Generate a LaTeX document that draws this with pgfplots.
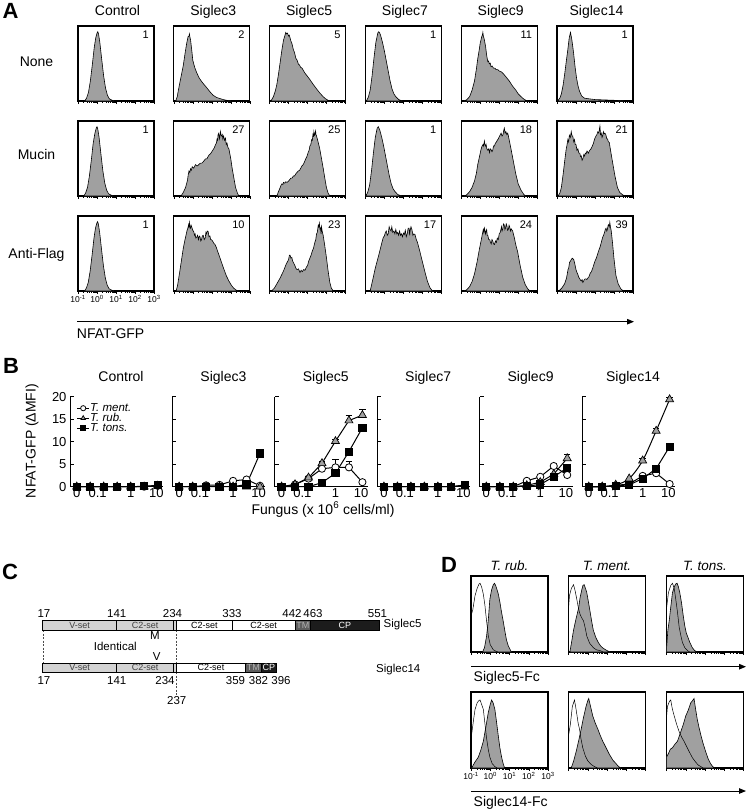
\documentclass[border=0pt]{standalone}
\usepackage{pgfplots}
\pgfplotsset{compat=1.18}
\usepackage{fontspec}
\setmainfont{Liberation Sans}
\usetikzlibrary{arrows.meta}
\definecolor{hg}{HTML}{A0A0A0}
\definecolor{cg}{HTML}{D3D3D3}
\definecolor{tmg}{HTML}{5E5E5E}
\definecolor{cpk}{HTML}{1C1C1C}
\newcommand{\fsz}[1]{\fontsize{#1}{#1}\selectfont}

\pgfplotsset{
 histo/.style={scale only axis, width=76pt, height=75pt, xmin=-1, xmax=3, ymin=0, ymax=1.05,
   anchor=north west, axis line style={line width=1.2pt}, ytick=\empty,
   xtick={-1,0,1,2,3},
   minor xtick={-0.699,-0.523,-0.398,-0.301,-0.222,-0.155,-0.097,-0.046,0.301,0.477,0.602,0.699,0.778,0.845,0.903,0.954,1.301,1.477,1.602,1.699,1.778,1.845,1.903,1.954,2.301,2.477,2.602,2.699,2.778,2.845,2.903,2.954},
   xtick pos=bottom, tick align=outside, xticklabels=\empty,
   major tick length=3pt, minor tick length=1.8pt, tick style={black, line width=0.5pt},
   xticklabel style={font=\fsz{8.5}, inner sep=1pt}},
 hfill/.style={fill=hg, draw=black, line width=0.6pt},
 hopen/.style={draw=black, line width=0.5pt, fill=none},
 bpan/.style={scale only axis, width=93pt, height=90pt, xmin=-0.5, xmax=6.4, ymin=0, ymax=20,
   anchor=south west, axis x line=bottom, axis y line=left, axis line style={-, line width=0.9pt},
   ytick={0,5,10,15,20}, yticklabels=\empty, tick align=inside, major tick length=4pt,
   ytick style={line width=0.9pt, black}, xtick={0,1.55,4,5.9}, xticklabels={0,0.1,1,10},
   xtick style={draw=none}, clip=false, tick label style={font=\fsz{13}},
   xticklabel style={inner sep=2pt},
   every axis plot/.append style={line width=1pt, black}},
 sm/.style={mark=*, mark size=3.6pt, mark options={fill=white, draw=black, line width=0.8pt}},
 sr/.style={mark=triangle*, mark size=4.6pt, mark options={fill=hg, draw=black, line width=0.7pt}},
 st/.style={mark=square*, mark size=3.6pt, mark options={fill=black, draw=black}},
 eb/.style={error bars/y dir=plus, error bars/y explicit,
   error bars/error bar style={line width=0.8pt, black},
   error bars/error mark options={rotate=90, mark size=3.2pt, line width=0.8pt, black}},
}

\newcommand{\histbox}[5][]{%
\begin{axis}[histo, at={(#2pt,-#3pt)}, #1]
\addplot[hfill] coordinates {#5} \closedcycle;
\node[anchor=north east, inner sep=0pt, font=\fsz{11}] at (rel axis cs:1,1) [xshift=-5pt, yshift=-5pt] {#4};
\end{axis}}

\newcommand{\dbox}[5][]{%
\begin{axis}[histo, width=77pt, height=76pt, at={(#2pt,-#3pt)}, #1]
\addplot[hfill] coordinates {#4} \closedcycle;
\addplot[hopen] coordinates {#5};
\end{axis}}

\begin{document}
\begin{tikzpicture}[x=1pt,y=1pt]
\path[use as bounding box] (0,0) rectangle (747,-811);

%================ PANEL A =================
\node[font=\bfseries\fsz{22}] at (10.5,-10.5) {A};
\foreach \n/\x in {Control/117.5, Siglec3/213.3, Siglec5/309.1, Siglec7/404.9, Siglec9/500.7, Siglec14/596.5}
  \node[font=\fsz{14}, anchor=base, inner sep=0pt] at (\x,-16) {\n};
\node[font=\fsz{14}, anchor=base, inner sep=0pt] at (36.5,-66.5) {None};
\node[font=\fsz{14}, anchor=base, inner sep=0pt] at (36.5,-159.5) {Mucin};
\node[font=\fsz{14}, anchor=base, inner sep=0pt] at (36.5,-258.5) {Anti-Flag};

% Row None
\histbox{78}{26}{1}{(-0.65,0) (-0.55,0.04) (-0.45,0.12) (-0.35,0.28) (-0.25,0.5) (-0.15,0.74) (-0.07,0.88) (0,0.95) (0.04,0.97) (0.08,0.94) (0.15,0.82) (0.25,0.58) (0.35,0.35) (0.45,0.18) (0.55,0.08) (0.65,0.03) (0.8,0.01) (0.9,0)}
\histbox{173.8}{26}{2}{(-0.9,0) (-0.82,0.06) (-0.76,0.15) (-0.65,0.3) (-0.5,0.5) (-0.4,0.68) (-0.32,0.81) (-0.25,0.9) (-0.2,0.91) (-0.18,0.94) (-0.14,0.88) (-0.12,0.86) (-0.05,0.7) (0.0,0.57) (0.1,0.47) (0.2,0.4) (0.34,0.32) (0.5,0.26) (0.72,0.19) (0.9,0.13) (1.07,0.08) (1.25,0.05) (1.42,0.035) (1.6,0.02) (1.77,0.01) (2.0,0)}
\histbox{269.6}{26}{5}{(-0.93,0) (-0.8,0.06) (-0.7,0.14) (-0.62,0.23) (-0.53,0.38) (-0.44,0.55) (-0.35,0.72) (-0.27,0.85) (-0.18,0.93) (-0.15,0.96) (-0.11,0.94) (-0.06,0.95) (0.0,0.91) (0.04,0.92) (0.12,0.84) (0.18,0.8) (0.25,0.72) (0.31,0.68) (0.38,0.6) (0.45,0.57) (0.51,0.52) (0.58,0.5) (0.64,0.47) (0.71,0.46) (0.77,0.43) (0.86,0.39) (0.95,0.36) (1.12,0.3) (1.3,0.23) (1.47,0.17) (1.65,0.11) (1.82,0.06) (1.95,0.03) (2.08,0.01) (2.2,0)}
\histbox{365.4}{26}{1}{(-0.95,0) (-0.85,0.05) (-0.75,0.15) (-0.65,0.35) (-0.55,0.6) (-0.45,0.82) (-0.35,0.95) (-0.3,0.97) (-0.26,0.96) (-0.2,0.92) (-0.1,0.82) (0,0.7) (0.1,0.56) (0.2,0.42) (0.3,0.28) (0.4,0.17) (0.5,0.1) (0.6,0.06) (0.75,0.02) (0.95,0)}
\histbox{461.2}{26}{11}{(-0.83,0) (-0.7,0.02) (-0.56,0.06) (-0.43,0.15) (-0.3,0.28) (-0.2,0.45) (-0.13,0.59) (-0.05,0.72) (0.0,0.81) (0.08,0.9) (0.12,0.93) (0.14,0.96) (0.17,0.9) (0.2,0.88) (0.28,0.77) (0.34,0.64) (0.4,0.55) (0.44,0.56) (0.48,0.52) (0.53,0.53) (0.57,0.48) (0.63,0.49) (0.7,0.46) (0.77,0.46) (0.84,0.44) (0.92,0.44) (1.0,0.42) (1.1,0.41) (1.19,0.39) (1.35,0.34) (1.53,0.28) (1.7,0.21) (1.88,0.15) (2.0,0.1) (2.15,0.06) (2.28,0.03) (2.4,0.01) (2.5,0)}
\histbox{557}{26}{1}{(-0.97,0) (-0.85,0.04) (-0.77,0.1) (-0.68,0.22) (-0.6,0.37) (-0.5,0.58) (-0.43,0.72) (-0.36,0.88) (-0.29,0.96) (-0.22,0.86) (-0.13,0.68) (-0.05,0.48) (0.03,0.32) (0.1,0.22) (0.18,0.14) (0.3,0.07) (0.44,0.04) (0.7,0.03) (1.0,0.02) (1.5,0.015) (2.0,0.01) (2.3,0.005) (2.5,0)}

% Row Mucin
\histbox{78}{121}{1}{(-0.7,0) (-0.6,0.04) (-0.5,0.12) (-0.4,0.28) (-0.3,0.5) (-0.2,0.74) (-0.11,0.88) (-0.04,0.95) (0,0.97) (0.04,0.94) (0.11,0.82) (0.21,0.58) (0.31,0.35) (0.41,0.18) (0.51,0.08) (0.61,0.03) (0.76,0.01) (0.86,0)}
\histbox{173.8}{121}{27}{(-0.62,0) (-0.5,0.05) (-0.38,0.12) (-0.28,0.22) (-0.24,0.3) (-0.2,0.35) (-0.16,0.33) (-0.12,0.38) (-0.08,0.36) (-0.03,0.41) (0.05,0.39) (0.1,0.42) (0.15,0.44) (0.22,0.42) (0.28,0.43) (0.35,0.45) (0.41,0.46) (0.48,0.46) (0.55,0.48) (0.61,0.5) (0.67,0.52) (0.74,0.52) (0.8,0.55) (0.87,0.58) (0.93,0.59) (1.0,0.62) (1.05,0.64) (1.12,0.67) (1.2,0.72) (1.24,0.74) (1.28,0.8) (1.31,0.78) (1.33,0.86) (1.37,0.88) (1.4,0.8) (1.42,0.82) (1.46,0.9) (1.48,0.86) (1.52,0.84) (1.55,0.86) (1.58,0.8) (1.62,0.84) (1.67,0.78) (1.72,0.81) (1.76,0.72) (1.8,0.74) (1.85,0.68) (1.9,0.66) (2.0,0.52) (2.07,0.39) (2.17,0.24) (2.25,0.12) (2.35,0.04) (2.42,0)}
\histbox{269.6}{121}{25}{(-0.62,0) (-0.52,0.07) (-0.44,0.12) (-0.4,0.15) (-0.35,0.17) (-0.3,0.16) (-0.27,0.19) (-0.2,0.18) (-0.15,0.2) (-0.08,0.19) (0.0,0.21) (0.06,0.23) (0.12,0.25) (0.18,0.25) (0.25,0.28) (0.31,0.28) (0.38,0.31) (0.44,0.33) (0.51,0.35) (0.58,0.36) (0.64,0.39) (0.7,0.42) (0.77,0.44) (0.84,0.48) (0.9,0.52) (0.96,0.55) (1.03,0.61) (1.08,0.64) (1.12,0.7) (1.17,0.72) (1.21,0.79) (1.25,0.78) (1.28,0.86) (1.31,0.84) (1.33,0.9) (1.36,0.85) (1.38,0.86) (1.42,0.91) (1.44,0.86) (1.47,0.84) (1.55,0.76) (1.64,0.66) (1.72,0.54) (1.82,0.39) (1.9,0.26) (1.99,0.12) (2.08,0.04) (2.17,0)}
\histbox{365.4}{121}{1}{(-0.98,0) (-0.88,0.05) (-0.78,0.15) (-0.68,0.35) (-0.58,0.6) (-0.48,0.82) (-0.38,0.95) (-0.32,0.97) (-0.24,0.92) (-0.14,0.82) (-0.04,0.7) (0.06,0.56) (0.16,0.42) (0.26,0.28) (0.36,0.17) (0.46,0.1) (0.56,0.06) (0.71,0.02) (0.9,0)}
\histbox{461.2}{121}{18}{(-0.83,0) (-0.7,0.02) (-0.56,0.06) (-0.43,0.12) (-0.3,0.21) (-0.2,0.32) (-0.13,0.44) (-0.04,0.55) (0.05,0.66) (0.1,0.7) (0.15,0.72) (0.18,0.7) (0.22,0.77) (0.25,0.72) (0.28,0.7) (0.31,0.72) (0.35,0.66) (0.4,0.64) (0.45,0.66) (0.49,0.61) (0.53,0.66) (0.57,0.65) (0.62,0.62) (0.66,0.64) (0.7,0.7) (0.75,0.7) (0.8,0.74) (0.84,0.75) (0.9,0.78) (0.95,0.8) (1.02,0.84) (1.1,0.88) (1.15,0.84) (1.2,0.86) (1.24,0.92) (1.27,0.95) (1.31,0.88) (1.35,0.9) (1.4,0.86) (1.45,0.88) (1.53,0.78) (1.62,0.66) (1.75,0.48) (1.88,0.3) (2.0,0.17) (2.15,0.08) (2.3,0.02) (2.4,0)}
\histbox{557}{121}{21}{(-0.95,0) (-0.85,0.04) (-0.77,0.12) (-0.68,0.3) (-0.6,0.48) (-0.52,0.65) (-0.47,0.72) (-0.43,0.79) (-0.39,0.76) (-0.35,0.85) (-0.3,0.82) (-0.25,0.9) (-0.21,0.84) (-0.17,0.84) (-0.12,0.76) (-0.08,0.79) (-0.04,0.72) (0.0,0.72) (0.05,0.64) (0.1,0.66) (0.15,0.6) (0.2,0.6) (0.24,0.55) (0.28,0.56) (0.32,0.5) (0.36,0.52) (0.41,0.58) (0.45,0.56) (0.49,0.6) (0.53,0.59) (0.58,0.63) (0.65,0.6) (0.72,0.64) (0.79,0.66) (0.86,0.7) (0.92,0.74) (0.98,0.8) (1.05,0.84) (1.1,0.86) (1.15,0.9) (1.2,0.88) (1.24,0.95) (1.26,0.98) (1.29,0.86) (1.33,0.88) (1.37,0.82) (1.4,0.84) (1.44,0.9) (1.48,0.87) (1.52,0.88) (1.57,0.86) (1.62,0.8) (1.66,0.8) (1.7,0.76) (1.75,0.75) (1.83,0.62) (1.92,0.48) (2.05,0.28) (2.18,0.12) (2.3,0.05) (2.44,0.02) (2.55,0)}

% Row Anti-Flag
\histbox[xticklabels={10\textsuperscript{-1},10\textsuperscript{0},10\textsuperscript{1},10\textsuperscript{2},10\textsuperscript{3}}]{78}{216}{1}{(-0.66,0) (-0.56,0.04) (-0.46,0.12) (-0.36,0.28) (-0.26,0.5) (-0.16,0.74) (-0.08,0.88) (-0.01,0.95) (0.03,0.97) (0.07,0.94) (0.14,0.82) (0.24,0.58) (0.34,0.35) (0.44,0.18) (0.54,0.08) (0.64,0.03) (0.79,0.01) (0.89,0)}
\histbox{173.8}{216}{10}{(-0.88,0) (-0.8,0.08) (-0.76,0.15) (-0.67,0.3) (-0.58,0.46) (-0.5,0.6) (-0.41,0.72) (-0.3,0.85) (-0.26,0.88) (-0.22,0.93) (-0.2,0.9) (-0.18,0.96) (-0.15,0.9) (-0.12,0.88) (-0.09,0.92) (-0.06,0.9) (0.0,0.85) (0.05,0.83) (0.09,0.78) (0.12,0.8) (0.16,0.74) (0.2,0.75) (0.25,0.78) (0.3,0.72) (0.34,0.77) (0.38,0.76) (0.42,0.7) (0.46,0.72) (0.5,0.77) (0.55,0.78) (0.6,0.72) (0.65,0.74) (0.69,0.82) (0.72,0.8) (0.76,0.84) (0.81,0.83) (0.85,0.76) (0.9,0.77) (0.94,0.72) (0.98,0.72) (1.04,0.7) (1.1,0.67) (1.17,0.65) (1.24,0.61) (1.3,0.56) (1.37,0.51) (1.5,0.41) (1.63,0.31) (1.77,0.21) (1.9,0.14) (2.03,0.08) (2.15,0.04) (2.3,0.01) (2.4,0)}
\histbox{269.6}{216}{23}{(-0.9,0) (-0.75,0.04) (-0.62,0.1) (-0.45,0.18) (-0.27,0.28) (-0.12,0.38) (0.0,0.44) (0.04,0.5) (0.08,0.5) (0.12,0.46) (0.17,0.47) (0.21,0.42) (0.25,0.4) (0.34,0.35) (0.4,0.31) (0.45,0.3) (0.52,0.31) (0.6,0.26) (0.66,0.29) (0.72,0.27) (0.79,0.3) (0.86,0.29) (0.93,0.33) (1.0,0.36) (1.06,0.42) (1.12,0.46) (1.18,0.5) (1.25,0.56) (1.31,0.6) (1.38,0.68) (1.43,0.72) (1.47,0.8) (1.51,0.82) (1.56,0.92) (1.59,0.9) (1.62,0.95) (1.65,0.87) (1.68,0.88) (1.71,0.8) (1.73,0.9) (1.78,0.82) (1.82,0.78) (1.9,0.64) (2.0,0.45) (2.08,0.28) (2.17,0.12) (2.25,0.04) (2.35,0)}
\histbox{365.4}{216}{17}{(-0.75,0) (-0.62,0.15) (-0.48,0.32) (-0.3,0.5) (-0.13,0.68) (-0.06,0.75) (0.0,0.77) (0.05,0.82) (0.1,0.84) (0.15,0.78) (0.2,0.8) (0.25,0.9) (0.3,0.86) (0.35,0.84) (0.39,0.9) (0.44,0.82) (0.5,0.84) (0.55,0.8) (0.6,0.86) (0.65,0.8) (0.7,0.82) (0.75,0.78) (0.8,0.84) (0.85,0.78) (0.9,0.8) (0.95,0.76) (1.0,0.81) (1.05,0.79) (1.1,0.85) (1.15,0.76) (1.2,0.8) (1.25,0.88) (1.3,0.88) (1.33,0.78) (1.35,0.84) (1.4,0.9) (1.45,0.86) (1.5,0.78) (1.55,0.8) (1.61,0.79) (1.68,0.72) (1.74,0.68) (1.87,0.55) (2.0,0.41) (2.13,0.27) (2.26,0.14) (2.39,0.05) (2.5,0.01) (2.57,0)}
\histbox{461.2}{216}{24}{(-0.83,0) (-0.7,0.02) (-0.56,0.06) (-0.43,0.13) (-0.3,0.24) (-0.17,0.4) (-0.04,0.59) (0.08,0.75) (0.13,0.82) (0.16,0.86) (0.19,0.82) (0.22,0.88) (0.25,0.84) (0.28,0.8) (0.31,0.84) (0.34,0.86) (0.37,0.78) (0.4,0.78) (0.45,0.72) (0.5,0.72) (0.54,0.68) (0.58,0.66) (0.62,0.72) (0.66,0.7) (0.7,0.66) (0.75,0.65) (0.8,0.7) (0.85,0.68) (0.9,0.74) (0.95,0.72) (1.0,0.8) (1.05,0.82) (1.09,0.86) (1.12,0.9) (1.15,0.84) (1.19,0.87) (1.22,0.94) (1.26,0.93) (1.3,0.86) (1.33,0.88) (1.37,0.94) (1.4,0.92) (1.44,0.85) (1.48,0.86) (1.52,0.92) (1.55,0.9) (1.59,0.84) (1.63,0.87) (1.71,0.84) (1.8,0.74) (1.88,0.64) (1.97,0.55) (2.1,0.36) (2.24,0.19) (2.37,0.09) (2.5,0.03) (2.62,0)}
\histbox{557}{216}{39}{(-0.9,0) (-0.75,0.04) (-0.6,0.1) (-0.5,0.18) (-0.42,0.3) (-0.38,0.33) (-0.34,0.4) (-0.29,0.42) (-0.25,0.44) (-0.2,0.46) (-0.16,0.45) (-0.12,0.44) (-0.08,0.4) (-0.04,0.35) (0.0,0.3) (0.05,0.26) (0.1,0.23) (0.15,0.19) (0.2,0.17) (0.24,0.15) (0.28,0.14) (0.32,0.16) (0.36,0.12) (0.4,0.14) (0.44,0.16) (0.48,0.17) (0.53,0.17) (0.57,0.16) (0.62,0.18) (0.68,0.2) (0.75,0.25) (0.81,0.27) (0.88,0.32) (0.94,0.37) (1.0,0.42) (1.07,0.46) (1.14,0.52) (1.2,0.57) (1.27,0.62) (1.33,0.68) (1.4,0.75) (1.45,0.78) (1.5,0.82) (1.54,0.86) (1.58,0.88) (1.62,0.84) (1.65,0.86) (1.69,0.92) (1.72,0.93) (1.75,0.9) (1.78,0.96) (1.81,0.9) (1.85,0.85) (1.92,0.68) (2.0,0.45) (2.1,0.22) (2.22,0.1) (2.36,0.03) (2.5,0)}

\draw[line width=1pt, -{Triangle[length=7pt,width=5.5pt]}] (77,-321.7) -- (634,-321.7);
\node[font=\fsz{14}, anchor=base west, inner sep=0pt] at (76.7,-338.3) {NFAT-GFP};

%================ PANEL B =================
\node[font=\bfseries\fsz{22}] at (11,-366) {B};
\foreach \n/\x in {Control/70, Siglec3/172.4, Siglec5/274.8, Siglec7/377.2, Siglec9/479.6, Siglec14/582}
  \node[font=\fsz{14}, anchor=base, inner sep=0pt] at (\x+51,-381.7) {\n};
\node[font=\fsz{14}, rotate=90] at (32,-441) {NFAT-GFP (ΔMFI)};
\node[font=\fsz{14}, anchor=base, inner sep=0pt] at (323,-514) {Fungus (x 10\textsuperscript{6} cells/ml)};

\begin{axis}[bpan, at={(70pt,-486.7pt)}, yticklabels={0,5,10,15,20},
  legend style={at={(0.07,0.93)}, anchor=north west, draw=none, fill=none, font=\fsz{11.5}\itshape,
    inner sep=0pt, row sep=0pt, nodes={inner sep=0.5pt, text height=8pt, text depth=1pt, anchor=west}},
  legend cell align=left,
  legend image code/.code={\draw[mark repeat=2,mark phase=2,#1,mark size=2.6pt] plot coordinates {(0pt,0pt) (6pt,0pt) (12pt,0pt)};}]
\addplot[sm] coordinates {(0,0) (1,0) (2,0) (3,0) (4,0) (5,0) (6,0.2)};
\addlegendentry{T. ment.}
\addplot[sr] coordinates {(0,0) (1,0) (2,0) (3,0) (4,0) (5,0) (6,0.2)};
\addlegendentry{T. rub.}
\addplot[st, eb] coordinates {(0,0) (1,0) (2,0) (3,0) (4,0) (5,0.1) (6,0.3) +- (0,0.5)};
\addlegendentry{T. tons.}
\end{axis}

\begin{axis}[bpan, at={(172.4pt,-486.7pt)}]
\addplot[sm] coordinates {(0,0) (1,0) (2,0.3) (3,0.4) (4,1.3) (5,1.6) (6,0.2)};
\addplot[sr] coordinates {(0,0) (1,0) (2,0) (3,0) (4,0) (5,0) (6,0)};
\addplot[st, eb] coordinates {(0,0) (1,0) (2,0) (3,0) (4,0) (5,0.5) (6,7.4) +- (0,0.8)};
\end{axis}

\begin{axis}[bpan, at={(274.8pt,-486.7pt)}]
\addplot[sm, eb] coordinates {(0,0) (1,0.5) (2,1.8) +- (0,0.4) (3,4.0) +- (0,1.3) (4,4.3) +- (0,1.8) (5,4.3) +- (0,1.4) (6,1.0)};
\addplot[sr, eb] coordinates {(0,0) (1,0.5) (2,2.0) +- (0,0.4) (3,5.2) +- (0,0.5) (4,10.1) +- (0,0.5) (5,14.7) +- (0,1.2) (6,15.9) +- (0,1.2)};
\addplot[st, eb] coordinates {(0,0) (1,0) (2,0) (3,0.9) (4,3.0) +- (0,0.4) (5,7.8) +- (0,0.6) (6,13.1) +- (0,0.6)};
\end{axis}

\begin{axis}[bpan, at={(377.2pt,-486.7pt)}]
\addplot[sm] coordinates {(0,0) (1,0) (2,0) (3,0) (4,0) (5,0) (6,0.3)};
\addplot[sr] coordinates {(0,0) (1,0) (2,0) (3,0) (4,0) (5,0) (6,0)};
\addplot[st, eb] coordinates {(0,0) (1,0) (2,0) (3,0) (4,0) (5,0) (6,0.4) +- (0,0.8)};
\end{axis}

\begin{axis}[bpan, at={(479.6pt,-486.7pt)}]
\addplot[sm, eb] coordinates {(0,0) (1,0) +- (0,0.6) (2,0) (3,1.3) (4,2.2) (5,4.6) +- (0,0.5) (6,2.6) +- (0,1.2)};
\addplot[sr, eb] coordinates {(0,0) (1,0) (2,0) (3,0.3) (4,1.0) (5,2.8) (6,6.3) +- (0,0.8)};
\addplot[st, eb] coordinates {(0,0) (1,0) (2,0) (3,0.1) (4,0.5) (5,2.2) (6,4.2) +- (0,0.6)};
\end{axis}

\begin{axis}[bpan, at={(582pt,-486.7pt)}]
\addplot[sm] coordinates {(0,0) (1,0) (2,0.3) (3,0.6) (4,2.4) (5,3.0) (6,0.6)};
\addplot[sr, eb, smooth] coordinates {(0,0) (1,0) (2,0.4) (3,1.8) (4,5.8) +- (0,0.4) (5,12.4) +- (0,0.5) (6,19.4) +- (0,0.4)};
\addplot[st, eb] coordinates {(0,0) (1,0) (2,0.2) (3,0.4) (4,1.8) (5,4.0) +- (0,0.5) (6,8.9) +- (0,0.6)};
\end{axis}

%================ PANEL C =================
\node[font=\bfseries\fsz{22}] at (10,-572) {C};
\draw[dash pattern=on 2pt off 1.5pt, line width=0.6pt, black!70] (43,-630) -- (43,-663.3);
\draw[dash pattern=on 2pt off 1.5pt, line width=0.6pt, black!70] (176.3,-630) -- (176.3,-696);
\begin{scope}[line width=0.6pt]
\filldraw[fill=cg] (42.7,-620) rectangle (116.7,-630);
\filldraw[fill=cg] (116.7,-620) rectangle (173.7,-630);
\filldraw[fill=cg] (173.7,-620) rectangle (176.3,-630);
\filldraw[fill=white] (176.3,-620) rectangle (232.3,-630);
\filldraw[fill=white] (232.3,-620) rectangle (295,-630);
\filldraw[fill=tmg] (295,-620) rectangle (310.7,-630);
\filldraw[fill=cpk] (310.7,-620) rectangle (379,-630);
\filldraw[fill=cg] (42.7,-663.3) rectangle (116.7,-672.3);
\filldraw[fill=cg] (116.7,-663.3) rectangle (173.7,-672.3);
\filldraw[fill=cg] (173.7,-663.3) rectangle (176.3,-672.3);
\filldraw[fill=white] (176.3,-663.3) rectangle (245.7,-672.3);
\filldraw[fill=tmg] (245.7,-663.3) rectangle (261,-672.3);
\filldraw[fill=cpk] (261,-663.3) rectangle (276.7,-672.3);
\end{scope}
\begin{scope}[every node/.style={font=\fsz{9}, inner sep=0pt}]
\node[text=black!75] at (79.7,-625) {V-set};
\node[text=black!75] at (145.2,-625) {C2-set};
\node at (204.3,-625) {C2-set};
\node at (263.7,-625) {C2-set};
\node[text=black!30] at (302.9,-625) {TM};
\node[text=white] at (344.9,-625) {CP};
\node[text=black!75] at (79.7,-667.8) {V-set};
\node[text=black!75] at (145.2,-667.8) {C2-set};
\node at (211,-667.8) {C2-set};
\node[text=black!30] at (253.3,-667.8) {TM};
\node[text=white] at (268.9,-667.8) {CP};
\end{scope}
\begin{scope}[every node/.style={font=\fsz{11.5}, inner sep=0pt, anchor=base}]
\node at (44,-617.5) {17};
\node at (116.7,-617.5) {141};
\node at (172.5,-617.5) {234};
\node at (232,-617.5) {333};
\node at (292,-617.5) {442};
\node at (313,-617.5) {463};
\node at (377.5,-617.5) {551};
\node at (44,-684) {17};
\node at (116.7,-684) {141};
\node at (165,-684) {234};
\node at (235.5,-684) {359};
\node at (258.5,-684) {382};
\node at (281,-684) {396};
\node at (176.7,-704) {237};
\node at (155,-639.3) {M};
\node at (115.3,-650) {Identical};
\node at (156.7,-660.7) {V};
\node[anchor=base west] at (383.5,-627) {Siglec5};
\node[anchor=base west] at (376,-672) {Siglec14};
\end{scope}

%================ PANEL D =================
\node[font=\bfseries\fsz{22}] at (449,-565) {D};
\node[font=\fsz{13.5}\itshape, anchor=base, inner sep=0pt] at (509.5,-570) {T. rub.};
\node[font=\fsz{13.5}\itshape, anchor=base, inner sep=0pt] at (607,-570) {T. ment.};
\node[font=\fsz{13.5}\itshape, anchor=base, inner sep=0pt] at (705,-570) {T. tons.};

\dbox{471}{576}{(-0.4,0) (-0.3,0.06) (-0.19,0.22) (-0.1,0.45) (-0.02,0.73) (0.07,0.86) (0.16,0.93) (0.22,0.95) (0.28,0.92) (0.33,0.88) (0.42,0.8) (0.5,0.69) (0.58,0.56) (0.67,0.43) (0.76,0.29) (0.84,0.17) (0.93,0.09) (1.02,0.04) (1.1,0)}{(-1,0.5) (-0.91,0.58) (-0.79,0.78) (-0.68,0.88) (-0.58,0.94) (-0.53,0.95) (-0.45,0.9) (-0.36,0.8) (-0.28,0.65) (-0.2,0.45) (-0.1,0.22) (0.0,0.1) (0.16,0.03) (0.3,0.01) (0.4,0)}
\dbox{568.5}{576}{(-0.93,0) (-0.85,0.12) (-0.74,0.3) (-0.6,0.47) (-0.48,0.6) (-0.4,0.75) (-0.31,0.86) (-0.25,0.92) (-0.19,0.93) (-0.12,0.88) (-0.05,0.82) (0.03,0.7) (0.12,0.56) (0.2,0.43) (0.29,0.3) (0.42,0.2) (0.55,0.13) (0.68,0.08) (0.81,0.05) (1.0,0.02) (1.16,0)}{(-1,0.6) (-0.95,0.78) (-0.85,0.88) (-0.74,0.93) (-0.66,0.85) (-0.57,0.73) (-0.48,0.6) (-0.4,0.52) (-0.31,0.47) (-0.22,0.43) (-0.13,0.33) (-0.05,0.22) (0.1,0.12) (0.29,0.06) (0.45,0.03) (0.64,0.02) (0.8,0)}
\dbox{666.5}{576}{(-1,0.04) (-0.93,0.3) (-0.86,0.43) (-0.78,0.62) (-0.69,0.82) (-0.6,0.9) (-0.52,0.94) (-0.45,0.95) (-0.38,0.9) (-0.31,0.82) (-0.22,0.68) (-0.14,0.52) (-0.05,0.36) (0.03,0.26) (0.09,0.22) (0.2,0.14) (0.34,0.06) (0.46,0.02) (0.6,0)}{(-1,0.6) (-0.9,0.82) (-0.78,0.92) (-0.69,0.95) (-0.6,0.88) (-0.52,0.73) (-0.43,0.55) (-0.34,0.34) (-0.25,0.22) (-0.17,0.13) (-0.05,0.06) (0.09,0.02) (0.2,0)}

\draw[line width=1pt, -{Triangle[length=7pt,width=5.5pt]}] (471,-666.7) -- (746,-666.7);
\node[font=\fsz{14}, anchor=base west, inner sep=0pt] at (473.5,-681.5) {Siglec5-Fc};

\dbox[xticklabels={10\textsuperscript{-1},10\textsuperscript{0},10\textsuperscript{1},10\textsuperscript{2},10\textsuperscript{3}}]{471}{692}{(-0.97,0) (-0.8,0.08) (-0.62,0.15) (-0.5,0.24) (-0.36,0.37) (-0.24,0.55) (-0.1,0.77) (0.0,0.88) (0.07,0.94) (0.15,0.9) (0.24,0.81) (0.32,0.65) (0.41,0.46) (0.5,0.28) (0.59,0.15) (0.68,0.05) (0.75,0)}{(-1,0.4) (-0.93,0.54) (-0.85,0.7) (-0.79,0.81) (-0.68,0.9) (-0.6,0.93) (-0.53,0.94) (-0.45,0.88) (-0.36,0.81) (-0.28,0.62) (-0.19,0.41) (-0.1,0.25) (-0.02,0.15) (0.1,0.06) (0.24,0.02) (0.35,0)}
\dbox{568.5}{692}{(-0.86,0) (-0.73,0.1) (-0.6,0.23) (-0.47,0.38) (-0.34,0.54) (-0.22,0.7) (-0.09,0.85) (0.0,0.93) (0.05,0.96) (0.12,0.88) (0.19,0.8) (0.26,0.72) (0.39,0.62) (0.52,0.54) (0.65,0.45) (0.78,0.37) (0.95,0.28) (1.12,0.19) (1.3,0.11) (1.47,0.06) (1.6,0.02) (1.72,0)}{(-1,0.45) (-0.91,0.59) (-0.8,0.85) (-0.69,0.94) (-0.6,0.8) (-0.5,0.62) (-0.43,0.54) (-0.35,0.4) (-0.26,0.28) (-0.13,0.17) (0.0,0.1) (0.17,0.05) (0.34,0.02) (0.5,0)}
\dbox{666.5}{692}{(-1,0.15) (-0.9,0.2) (-0.8,0.26) (-0.69,0.28) (-0.56,0.33) (-0.43,0.37) (-0.34,0.44) (-0.26,0.5) (-0.13,0.6) (0.0,0.72) (0.13,0.8) (0.26,0.9) (0.35,0.93) (0.43,0.96) (0.52,0.8) (0.6,0.67) (0.69,0.56) (0.78,0.46) (0.9,0.34) (1.03,0.23) (1.16,0.13) (1.29,0.06) (1.4,0.02) (1.5,0)}{(-1,0.7) (-0.95,0.85) (-0.85,0.92) (-0.78,0.94) (-0.7,0.82) (-0.6,0.72) (-0.47,0.6) (-0.34,0.5) (-0.2,0.42) (-0.09,0.37) (0.04,0.3) (0.17,0.23) (0.35,0.14) (0.52,0.08) (0.65,0.04) (0.78,0.02) (0.9,0)}

\draw[line width=1pt, -{Triangle[length=7pt,width=5.5pt]}] (471,-791) -- (746,-791);
\node[font=\fsz{14}, anchor=base west, inner sep=0pt] at (473.5,-806.5) {Siglec14-Fc};

\end{tikzpicture}
\end{document}
